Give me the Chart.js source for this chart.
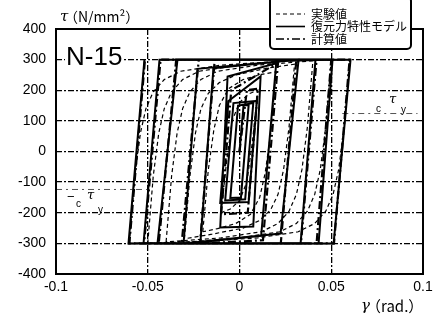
<!DOCTYPE html>
<html>
<head>
<meta charset="utf-8">
<script src="https://cdn.jsdelivr.net/npm/chart.js@4.4.0/dist/chart.umd.min.js"></script>
<style>
  html, body { margin: 0; padding: 0; background: #fff; }
</style>
</head>
<body>
<canvas id="chart" width="445" height="322"></canvas>
<script>
// axis ticks
const xTickValues = [-0.1, -0.05, 0, 0.05, 0.1];
const xTickLabels = ['-0.1', '-0.05', '0', '0.05', '0.1'];
const yTickValues = [400, 300, 200, 100, 0, -100, -200, -300, -400];
const yTickLabels = ['400', '300', '200', '100', '0', '-100', '-200', '-300', '-400'];

// 復元力特性モデル (solid), loop vertices
const modelGamma = [0, 0.0022, 0.005, 0.0008, -0.005, -0.0008, 0.0075, 0.0031, -0.0078, -0.0033,
  0.0095, 0.005, -0.0105, -0.006, 0.0115, 0.0075, -0.0105, -0.0065, 0.020, 0.0118, -0.0213, -0.0142,
  0.0322, 0.0224, -0.0305, -0.0229, 0.032, 0.0414, 0.0333, -0.0447, -0.0338, 0.0507, 0.0431, -0.0523,
  -0.0436, 0.0605, 0.0513, -0.0605, -0.0518];
const modelTau = [0, 150, 152, -150, -152, 150, 158, -156, -160, 158,
  165, -165, -168, 165, 245, -245, -248, 245, 288, -275, -296, 272,
  300, -268, -300, 270, 300, 300, -300, -300, 300, 300, -300, -300,
  300, 300, -300, -300, 300];

// 計算値 (dash-dot)
const calcGamma = [0, 0.004, 0.010, 0.0045, -0.010, -0.0045, 0.021, 0.0128, -0.0215, -0.0135,
  0.031, 0.0225, -0.0315, -0.0222, 0.042, 0.0335, -0.044, -0.0345, 0.050, 0.042, -0.052, -0.043,
  0.060, 0.0515, -0.060, -0.0515];
const calcTau = [0, 200, 205, -200, -205, 200, 290, -290, -300, 300,
  300, -300, -300, 300, 300, -300, -300, 300, 300, -300, -300, 300,
  300, -300, -300, 300];

// 実験値 (dashed), one loop per amplitude, null = break
const expGamma = [
  -0.010, -0.007, -0.004, 0.000, 0.005, 0.010, 0.007, 0.004, 0.000, -0.005, -0.010, null,
  -0.020, -0.017, -0.014, -0.011, -0.006, 0.002, 0.012, 0.020, 0.017, 0.014, 0.011, 0.006, -0.002, -0.012, -0.020, null,
  -0.030, -0.027, -0.024, -0.021, -0.017, -0.011, -0.002, 0.015, 0.030, 0.027, 0.024, 0.021, 0.017, 0.011, 0.002, -0.015, -0.030, null,
  -0.040, -0.037, -0.034, -0.031, -0.027, -0.021, -0.012, 0.010, 0.040, 0.037, 0.034, 0.031, 0.027, 0.021, 0.012, -0.010, -0.040, null,
  -0.050, -0.047, -0.044, -0.041, -0.037, -0.031, -0.022, 0.000, 0.025, 0.050, 0.047, 0.044, 0.041, 0.037, 0.031, 0.022, 0.000, -0.025, -0.050, null,
  -0.060, -0.057, -0.054, -0.051, -0.047, -0.041, -0.032, -0.010, 0.020, 0.060, 0.057, 0.054, 0.051, 0.047, 0.041, 0.032, 0.010, -0.020, -0.060
];
const expTau = [
  -200, -30, 100, 160, 188, 200, 30, -100, -160, -188, -200, null,
  -262, -60, 70, 150, 205, 235, 252, 260, 60, -70, -150, -205, -235, -252, -262, null,
  -285, -80, 60, 140, 190, 225, 250, 272, 285, 80, -60, -140, -190, -225, -250, -270, -285, null,
  -295, -80, 60, 140, 195, 235, 262, 282, 296, 80, -60, -140, -195, -235, -262, -282, -295, null,
  -300, -80, 60, 140, 195, 235, 262, 282, 294, 300, 80, -60, -140, -195, -235, -262, -282, -294, -300, null,
  -300, -80, 60, 140, 195, 235, 262, 282, 294, 300, 80, -60, -140, -195, -235, -262, -282, -294, -300
];

// cτy reference lines
const ctyGamma = [0.056, 0.097, null, -0.1, -0.048];
const ctyTau = [124, 124, null, -124, -124];

function toPoints(gs, ts) {
  return gs.map((g, i) => ({ x: g, y: ts[i] }));
}

const decor = {
  id: 'decor',
  beforeDatasetsDraw(chart) {
    const ctx = chart.ctx;
    ctx.save();
    ctx.fillStyle = '#fff';
    ctx.fillRect(65, 46, 59, 22);
    ctx.fillStyle = '#000';
    ctx.font = '26px "Liberation Sans", Arial, sans-serif';
    ctx.textBaseline = 'middle';
    ctx.fillText('N-15', 66, 58);
    ctx.restore();
  },
  afterDraw(chart) {
    const ctx = chart.ctx;
    const a = chart.chartArea;
    ctx.save();
    // frame
    ctx.strokeStyle = '#000';
    ctx.lineWidth = 2;
    ctx.setLineDash([]);
    ctx.strokeRect(a.left, a.top, a.right - a.left, a.bottom - a.top);

    // axis titles
    ctx.fillStyle = '#000';
    ctx.textBaseline = 'middle';
    ctx.font = 'italic 15px "DejaVu Serif", serif';
    ctx.fillText('τ', 60, 17);
    ctx.font = '14px "Noto Sans CJK JP", sans-serif';
    ctx.fillText('（N/mm²）', 64, 17);
    ctx.font = 'italic 15px "DejaVu Serif", serif';
    ctx.fillText('γ', 361, 306);
    ctx.font = '15px "Noto Sans CJK JP", sans-serif';
    ctx.fillText('（rad.）', 366, 306);

    // cτy labels
    ctx.font = '10px "Liberation Sans", sans-serif';
    ctx.fillText('c', 376, 109);
    ctx.fillText('y', 401, 110);
    ctx.fillText('c', 76, 204);
    ctx.fillText('y', 98, 210);
    ctx.font = 'italic 13px "DejaVu Serif", serif';
    ctx.fillText('τ', 389, 100);
    ctx.fillText('τ', 87, 196);
    ctx.font = '13px "Liberation Sans", sans-serif';
    ctx.fillText('−', 67, 197);

    // legend
    ctx.fillStyle = '#fff';
    ctx.lineWidth = 2;
    ctx.beginPath();
    ctx.roundRect(270, -3, 141, 52, 4);
    ctx.fill();
    ctx.stroke();
    const rows = [14, 26.5, 39];
    ctx.font = '12px "Noto Sans CJK JP", sans-serif';
    for (let i = 0; i < 3; i++) {
      const ds = chart.data.datasets[i];
      ctx.strokeStyle = '#000';
      ctx.lineWidth = ds.borderWidth > 1.3 ? 1.6 : 1;
      ctx.setLineDash(ds.borderDash || []);
      ctx.beginPath();
      ctx.moveTo(276, rows[i]);
      ctx.lineTo(305, rows[i]);
      ctx.stroke();
      ctx.setLineDash([]);
      ctx.fillStyle = '#000';
      ctx.fillText(ds.label, 311, rows[i]);
    }
    ctx.restore();
  }
};

const tickFont = { family: '"Liberation Sans", Arial, sans-serif', size: 14 };

new Chart(document.getElementById('chart'), {
  type: 'scatter',
  data: {
    datasets: [
      {
        label: '実験値',
        data: toPoints(expGamma, expTau),
        showLine: true,
        borderColor: '#000',
        borderWidth: 1.2,
        borderDash: [4, 3],
        pointRadius: 0
      },
      {
        label: '復元力特性モデル',
        data: toPoints(modelGamma, modelTau),
        showLine: true,
        borderColor: '#000',
        borderWidth: 2,
        pointRadius: 0
      },
      {
        label: '計算値',
        data: toPoints(calcGamma, calcTau),
        showLine: true,
        borderColor: '#000',
        borderWidth: 2.2,
        borderDash: [8, 3, 2, 3],
        pointRadius: 0
      },
      {
        label: 'cτy',
        data: toPoints(ctyGamma, ctyTau),
        showLine: true,
        borderColor: '#555',
        borderWidth: 1,
        borderDash: [6, 4, 2, 4],
        pointRadius: 0
      }
    ]
  },
  options: {
    responsive: false,
    animation: false,
    layout: { padding: { top: 29, right: 22, left: 0, bottom: 0 } },
    plugins: { legend: { display: false }, tooltip: { enabled: false } },
    scales: {
      x: {
        type: 'linear',
        min: -0.1,
        max: 0.1,
        afterBuildTicks: s => { s.ticks = xTickValues.map(v => ({ value: v })); },
        afterFit: s => { s.height = 48; },
        ticks: {
          color: '#000',
          font: tickFont,
          padding: 5,
          maxRotation: 0,
          callback: (v, i) => xTickLabels[i]
        },
        grid: { color: '#000', lineWidth: 1.3, drawTicks: false },
        border: { display: false, dash: [6, 2, 2, 2] }
      },
      y: {
        type: 'linear',
        min: -400,
        max: 400,
        afterBuildTicks: s => { s.ticks = yTickValues.map(v => ({ value: v })); },
        afterFit: s => { s.width = 56; },
        ticks: {
          color: '#000',
          font: tickFont,
          padding: 10,
          callback: (v, i) => yTickLabels[i]
        },
        grid: { color: '#000', lineWidth: 1.3, drawTicks: false },
        border: { display: false, dash: [6, 2, 2, 2] }
      }
    }
  },
  plugins: [decor]
});
</script>
</body>
</html>
